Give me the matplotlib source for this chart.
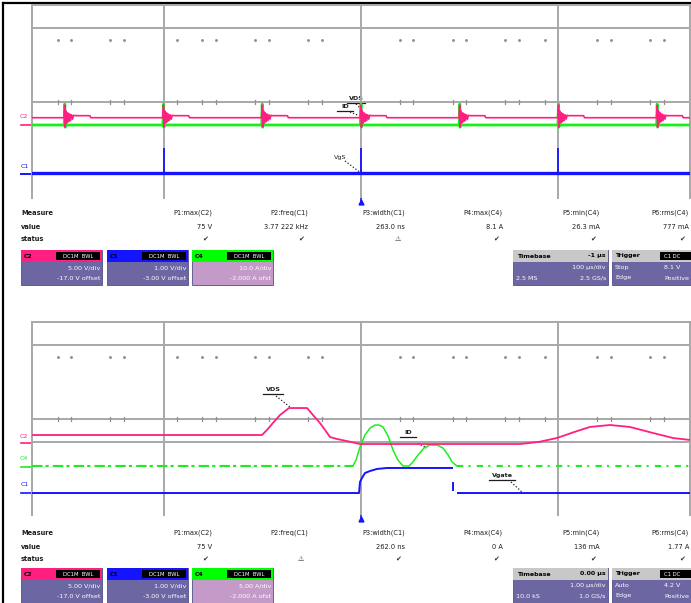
import numpy as np
import matplotlib.pyplot as plt
from matplotlib.patches import Rectangle

# ---- trace data (x in divisions from trigger, y in divisions from panel bottom) ----
# upper panel: repetitive switching pulses
pulse_times = [-1.5, -1.0, -0.5, 0.0, 0.5, 1.0, 1.5]
pulse_dx = [-0.004, 0.0, 0.002, 0.0065, 0.011, 0.0155, 0.020, 0.0245, 0.029,
            0.034, 0.039, 0.044, 0.052, 0.127, 0.132]
pulse_dy = [0.0, 0.13, -0.096, 0.07, -0.055, 0.05, -0.04, 0.038, -0.028,
            0.03, -0.015, 0.025, 0.021, 0.021, 0.0]
pink_top_base = 0.838
green_top_base = 0.763
green_spike_dx = [-0.003, 0.0, 0.002, 0.004]
green_spike_y = [0.763, 0.98, 0.74, 0.763]
blue_top_base = 0.263
blue_spike_times = [-1.0, 0.0, 1.0]
blue_spike_top = 0.526

# lower panel: single event, zoomed
pink_bot_x = [-1.666, -0.501, -0.476, -0.446, -0.410, -0.365, -0.273, -0.243, -0.208,
              -0.182, -0.157, -0.122, -0.056, -0.005, 0.805, 0.855, 0.906, 0.992,
              1.08, 1.159, 1.261, 1.362, 1.478, 1.580, 1.666]
pink_bot_y = [0.835, 0.835, 0.887, 0.959, 1.041, 1.113, 1.113, 1.041, 0.959,
              0.887, 0.814, 0.794, 0.766, 0.742, 0.742, 0.753, 0.766, 0.804,
              0.866, 0.918, 0.938, 0.918, 0.856, 0.804, 0.784]
green_bot_base = 0.515
green_bot_x = [-0.041, -0.025, -0.005, 0.020, 0.046, 0.071, 0.091, 0.111, 0.137, 0.162,
               0.187, 0.213, 0.243, 0.263, 0.289, 0.319, 0.349, 0.385, 0.415, 0.441,
               0.461, 0.486]
green_bot_y = [0.515, 0.577, 0.711, 0.835, 0.907, 0.938, 0.938, 0.918, 0.825, 0.680,
               0.577, 0.515, 0.515, 0.557, 0.629, 0.701, 0.732, 0.732, 0.701, 0.629,
               0.557, 0.515]
blue_bot_x = [-1.666, -0.010, -0.005, 0.005, 0.020, 0.046, 0.081, 0.132, 0.461, np.nan,
              0.466, 0.466, np.nan, 0.491, 1.666]
blue_bot_y = [0.237, 0.237, 0.351, 0.392, 0.443, 0.464, 0.485, 0.495, 0.495, np.nan,
              0.340, 0.268, np.nan, 0.237, 0.237]

# grid decoration
grid_h = [2.0, 1.763, 1.0, 0.763]
grid_v = [-1.666, -1.0, 0.0, 1.0, 1.666]
dot_x = [-1.534, -1.468, -1.271, -1.2, -0.932, -0.805, -0.734, -0.537, -0.466, -0.268,
         -0.197, 0.197, 0.263, 0.466, 0.532, 0.729, 0.8, 0.932, 1.195, 1.266, 1.463, 1.534]

# measurement table
col_headers = ["P1:max(C2)", "P2:freq(C1)", "P3:width(C1)", "P4:max(C4)",
               "P5:min(C4)", "P6:rms(C4)"]
top_values = ["75 V", "3.77 222 kHz", "263.0 ns", "8.1 A", "26.3 mA", "777 mA"]
bot_values = ["75 V", "", "262.0 ns", "0 A", "136 mA", "1.77 A"]
top_status = ["\u2714", "\u2714", "\u26a0", "\u2714", "\u2714", "\u2714"]
bot_status = ["\u2714", "\u26a0", "\u2714", "\u2714", "\u2714", "\u2714"]

ch_names = ["C2", "C1", "C4"]
ch_scale_top = ["5.00 V/div", "1.00 V/div", "10.0 A/div"]
ch_offset_top = ["-17.0 V offset", "-3.00 V offset", "-2.000 A ofst"]
ch_scale_bot = ["5.00 V/div", "1.00 V/div", "5.00 A/div"]
ch_offset_bot = ["-17.0 V offset", "-3.00 V offset", "-2.000 A ofst"]
tb_delay = ["-1 \u00b5s", "0.00 \u00b5s"]
tb_scale = ["100 \u00b5s/div", "1.00 \u00b5s/div"]
tb_rate = [("2.5 MS", "2.5 GS/s"), ("10.0 kS", "1.0 GS/s")]
trig_mode = [("Stop", "8.1 V"), ("Auto", "4.2 V")]

PINK = "#ff1f80"
GREEN = "#19f019"
BLUE = "#1414ff"
GRID = "#a8a8a8"
BODY = "#6c66a2"
TXT = "#1e1e1e"

W, H = 691, 603
fig = plt.figure(figsize=(W / 100, H / 100), dpi=100)
bg = fig.add_axes([0, 0, 1, 1])
bg.set_xlim(0, W)
bg.set_ylim(H, 0)
bg.axis("off")

# outer black frame (top and left)
bg.plot([3, W], [2.5, 2.5], color="black", lw=1.6)
bg.plot([3, 3], [2.5, H], color="black", lw=1.6)


def make_panel(top_px, bot_px):
    ax = fig.add_axes([32 / W, 1 - bot_px / H, 658 / W, (bot_px - top_px) / H])
    ax.set_xlim(-1.666, 1.666)
    ax.set_ylim(0, 2)
    ax.axis("off")
    for y in grid_h:
        ax.plot([-1.666, 1.666], [y, y], color=GRID, lw=1.4, zorder=1, clip_on=False)
    for x in grid_v:
        ax.plot([x, x], [0.01, 2.0], color=GRID, lw=1.4, zorder=1, clip_on=False)
    ax.scatter(dot_x, [1.639] * len(dot_x), s=1.2, color="#909090", zorder=1)
    for x in dot_x:
        ax.plot([x, x], [0.975, 1.025], color="#909090", lw=0.9, zorder=1)
    # trigger marker
    ax.plot([0, 0], [-0.03, 0.0], color=BLUE, lw=1.2, clip_on=False)
    ax.plot([0], [-0.03], marker="^", ms=3.5, color=BLUE, clip_on=False)
    return ax


def leader(text, tx, ty, x0, y0, x1, y1, ul):
    # label with underline and dotted leader (pixel coords on background)
    bg.text(tx, ty, text, fontsize=4.6, color=TXT, ha="center", va="bottom",
            fontweight="bold")
    bg.plot([tx - ul, tx + ul], [ty + 1.5, ty + 1.5], color=TXT, lw=0.9)
    bg.plot([x0, x1], [y0, y1], color=TXT, lw=0.9, ls=(0, (1, 1.6)))


# ---------------- upper panel ----------------
ax1 = make_panel(5, 199)
px, py = [-1.666], [pink_top_base]
gx, gy = [-1.666], [green_top_base]
for t in pulse_times:
    px += [t + d for d in pulse_dx]
    py += [pink_top_base + d for d in pulse_dy]
    gx += [t + d for d in green_spike_dx]
    gy += green_spike_y
px.append(1.666); py.append(pink_top_base)
gx.append(1.666); gy.append(green_top_base)
ax1.plot(gx, gy, color=GREEN, lw=2.0, zorder=3)
ax1.plot(px, py, color=PINK, lw=1.2, zorder=4)
ax1.plot([-1.666, 1.666], [blue_top_base, blue_top_base], color=BLUE, lw=2.4, zorder=3)
ax1.vlines(blue_spike_times, blue_top_base, blue_spike_top, color=BLUE, lw=1.3, zorder=3)

# channel markers upper
bg.text(24, 117, "C2", color=PINK, fontsize=4.5, ha="center", va="center")
bg.plot([21, 32], [125, 125], color=PINK, lw=1.2)
bg.text(25, 166, "C1", color=BLUE, fontsize=4.5, ha="center", va="center")
bg.plot([21, 32], [173.5, 173.5], color=BLUE, lw=1.4)

leader("VDS", 356, 101, 356, 104, 362, 110, 9)
leader("ID", 345, 109, 350, 112, 360, 116, 8)
bg.text(340, 160, "VgS", fontsize=4.6, color=TXT, ha="center", va="bottom")
bg.plot([345, 361], [161, 173], color=TXT, lw=0.9, ls=(0, (1, 1.6)))

# ---------------- lower panel ----------------
ax2 = make_panel(322, 516)
ax2.plot([-1.666, green_bot_x[0]], [green_bot_base] * 2, color=GREEN, lw=1.5,
         dashes=(5, 1.5, 1.5, 2), zorder=3)
ax2.plot([green_bot_x[-1], 1.666], [green_bot_base] * 2, color=GREEN, lw=1.5,
         dashes=(3, 2.5, 1, 3), zorder=3)
ax2.plot(green_bot_x, green_bot_y, color=GREEN, lw=1.1, zorder=3)
ax2.plot(pink_bot_x, pink_bot_y, color=PINK, lw=1.3, zorder=4)
ax2.plot(blue_bot_x, blue_bot_y, color=BLUE, lw=1.4, zorder=3)

bg.text(24, 436, "C2", color=PINK, fontsize=4.5, ha="center", va="center")
bg.plot([21, 32], [443, 443], color=PINK, lw=1.2)
bg.text(24, 458, "C4", color=GREEN, fontsize=4.5, ha="center", va="center")
bg.plot([21, 32], [466.5, 466.5], color=GREEN, lw=1.2)
bg.text(25, 485, "C1", color=BLUE, fontsize=4.5, ha="center", va="center")
bg.plot([21, 32], [493, 493], color=BLUE, lw=1.2)

leader("VDS", 273, 392, 276, 396, 290, 407, 10)
leader("ID", 408, 435, 415, 442, 427, 448, 8)
leader("Vgate", 502, 478, 511, 482, 523, 493, 13)


# ---------------- measurement tables and info boxes ----------------
col_right = [212, 308, 405, 503, 600, 689]


def table(y0, values, status):
    bg.text(21, y0, "Measure", fontsize=4.8, color=TXT, va="center", fontweight="bold")
    bg.text(21, y0 + 14, "value", fontsize=4.8, color=TXT, va="center", fontweight="bold")
    bg.text(21, y0 + 26, "status", fontsize=4.8, color=TXT, va="center", fontweight="bold")
    for xr, hd, v, s in zip(col_right, col_headers, values, status):
        bg.text(xr, y0, hd, fontsize=4.8, color=TXT, ha="right", va="center")
        bg.text(xr, y0 + 14, v, fontsize=4.8, color=TXT, ha="right", va="center")
        bg.text(xr - 4, y0 + 26, s, fontsize=5, color="#303030", ha="right", va="center")


def ch_boxes(y0, scales, offsets, tbi):
    colors = [PINK, BLUE, "#00ff00"]
    bodies = [BODY, BODY, "#c49bc8"]
    lefts = [21, 107, 192]
    for i in range(3):
        x0 = lefts[i]
        bg.add_patch(Rectangle((x0, y0), 81, 35, facecolor=bodies[i], edgecolor="#50508a", lw=0.6))
        bg.add_patch(Rectangle((x0, y0), 81, 12, facecolor=colors[i], edgecolor="none"))
        bg.text(x0 + 3, y0 + 6, ch_names[i], fontsize=4.4, color="black", va="center",
                fontweight="bold")
        bg.add_patch(Rectangle((x0 + 35, y0 + 2), 44, 8, facecolor="black"))
        bg.text(x0 + 57, y0 + 6, "DC1M  BWL", fontsize=3.8, color="white",
                ha="center", va="center")
        bg.text(x0 + 79, y0 + 17.5, scales[i], fontsize=4.6, color="white", ha="right", va="center")
        bg.text(x0 + 79, y0 + 28, offsets[i], fontsize=4.6, color="white", ha="right", va="center")
    # timebase box
    bg.add_patch(Rectangle((513, y0), 95, 35, facecolor=BODY, edgecolor="#50508a", lw=0.6))
    bg.add_patch(Rectangle((513, y0), 95, 12, facecolor="#c8c8c8", edgecolor="none"))
    bg.text(517, y0 + 6, "Timebase", fontsize=4.5, color="black", va="center", fontweight="bold")
    bg.text(606, y0 + 6, tb_delay[tbi], fontsize=4.5, color="black", ha="right", va="center",
            fontweight="bold")
    bg.text(606, y0 + 17.5, tb_scale[tbi], fontsize=4.6, color="white", ha="right", va="center")
    bg.text(516, y0 + 28, tb_rate[tbi][0], fontsize=4.6, color="white", va="center")
    bg.text(606, y0 + 28, tb_rate[tbi][1], fontsize=4.6, color="white", ha="right", va="center")
    # trigger box
    bg.add_patch(Rectangle((612, y0), 85, 35, facecolor=BODY, edgecolor="#50508a", lw=0.6))
    bg.add_patch(Rectangle((612, y0), 85, 12, facecolor="#c8c8c8", edgecolor="none"))
    bg.text(615, y0 + 6, "Trigger", fontsize=4.5, color="black", va="center", fontweight="bold")
    bg.add_patch(Rectangle((660, y0 + 2), 40, 8, facecolor="black"))
    bg.text(664, y0 + 6, "C1 DC", fontsize=3.8, color="white", va="center")
    bg.text(615, y0 + 17.5, trig_mode[tbi][0], fontsize=4.6, color="white", va="center")
    bg.text(615, y0 + 28, "Edge", fontsize=4.6, color="white", va="center")
    bg.text(664, y0 + 17.5, trig_mode[tbi][1], fontsize=4.6, color="white", va="center")
    bg.text(664, y0 + 28, "Positive", fontsize=4.6, color="white", va="center")


table(213, top_values, top_status)
ch_boxes(250, ch_scale_top, ch_offset_top, 0)
table(533, bot_values, bot_status)
ch_boxes(568, ch_scale_bot, ch_offset_bot, 1)

fig.savefig("out.png", dpi=100, facecolor="white")
